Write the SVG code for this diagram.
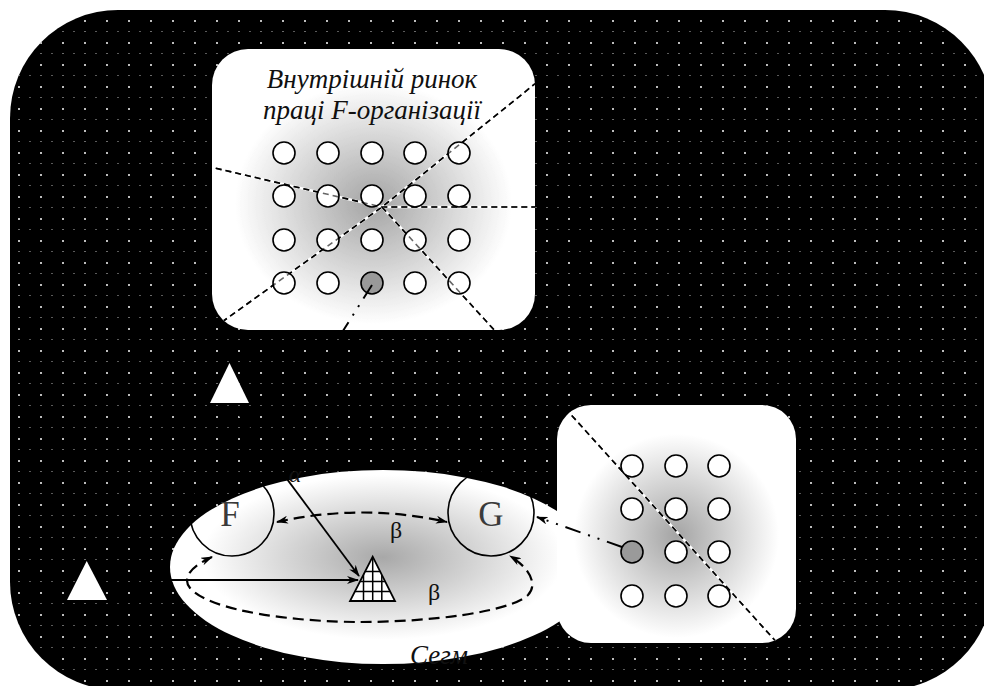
<svg xmlns="http://www.w3.org/2000/svg" width="984" height="686" viewBox="0 0 984 686">
  <defs>
    <pattern id="dots" x="18" y="20" width="22" height="22" patternUnits="userSpaceOnUse">
      <rect x="0" y="0" width="2" height="2" fill="#bdbdbd"/>
      <rect x="0" y="11" width="2" height="1" fill="#6a6a6a"/>
      <rect x="11" y="11" width="2" height="1" fill="#5a5a5a"/>
    </pattern>
    <radialGradient id="boxShade" cx="0.5" cy="0.55" r="0.55">
      <stop offset="0" stop-color="#a4a4a4"/>
      <stop offset="0.78" stop-color="#ffffff"/>
    </radialGradient>
    <radialGradient id="segShade" cx="0.5" cy="0.45" r="0.5">
      <stop offset="0" stop-color="#a8a8a8"/>
      <stop offset="0.85" stop-color="#ffffff"/>
    </radialGradient>
    <clipPath id="clipTop"><rect x="212" y="49" width="323" height="281" rx="36"/></clipPath>
    <clipPath id="clipRight"><rect x="557" y="405" width="239" height="238" rx="34"/></clipPath>
    <clipPath id="clipHatch"><polygon points="372.7,556.7 350,601 395,601"/></clipPath>
    <marker id="arr" viewBox="0 0 12 8" refX="11" refY="4" markerWidth="12" markerHeight="8" markerUnits="userSpaceOnUse" orient="auto-start-reverse">
      <path d="M0,0 L12,4 L0,8 L3.5,4 z" fill="#000"/>
    </marker>
    <style>
      .cell { fill: #fff; stroke: #000; stroke-width: 1.6; }
      .cell.sel { fill: #9a9a9a; }
      .halo { fill: none; stroke: #fff; stroke-width: 2.4; }
      .divide { fill: none; stroke: #000; stroke-width: 1.6; stroke-dasharray: 6 4; }
      .title { font-family: "Liberation Serif", "Times New Roman", serif; font-style: italic; font-size: 27px; fill: #111; text-anchor: middle; }
      .greek { font-family: "Liberation Serif", "Times New Roman", serif; font-size: 24px; fill: #111; text-anchor: middle; }
      .firm { font-family: "Liberation Serif", "Times New Roman", serif; font-size: 35px; fill: #3a3a3a; text-anchor: middle; }
      .ring { fill: none; stroke: #000; stroke-width: 1.6; }
      .flow { fill: none; stroke: #000; stroke-width: 1.8; }
      .loop { fill: none; stroke: #000; stroke-width: 2.2; stroke-dasharray: 11 6; }
      .move { fill: none; stroke: #000; stroke-width: 2; stroke-dasharray: 16 8 2 8 2 8; }
      .mark { fill: #fff; }
    </style>
  </defs>

  <!-- dotted black backdrop -->
  <rect x="10" y="10" width="983" height="680" rx="108" fill="#000"/>
  <rect x="10" y="10" width="983" height="680" rx="108" fill="url(#dots)"/>

  <!-- segment ellipse -->
  <g id="segment">
    <ellipse cx="383" cy="567" rx="213" ry="97" fill="url(#segShade)"/>
    <text class="title" x="410" y="664" style="text-anchor:start">Сегм</text>
  </g>

  <!-- internal labour market of organisation F -->
  <g id="internal-market">
    <rect x="212" y="49" width="323" height="281" rx="36" fill="url(#boxShade)"/>
    <text class="title" x="372" y="88">Внутрішній ринок</text>
    <text class="title" x="372" y="119">праці F-організації</text>
    <g clip-path="url(#clipTop)">
      <polyline class="halo" points="222,322 382,207 536,83"/>
      <polyline class="divide" points="222,322 382,207 536,83"/>
      <polyline class="halo" points="206,166 382,207 540,207"/>
      <polyline class="divide" points="206,166 382,207 540,207"/>
      <line class="halo" x1="382" y1="207" x2="496" y2="332"/>
      <line class="divide" x1="382" y1="207" x2="496" y2="332"/>
    </g>
    <g>
      <circle class="cell" cx="284" cy="153" r="11"/>
      <circle class="cell" cx="328" cy="153" r="11"/>
      <circle class="cell" cx="372" cy="153" r="11"/>
      <circle class="cell" cx="415" cy="153" r="11"/>
      <circle class="cell" cx="459" cy="153" r="11"/>
      <circle class="cell" cx="284" cy="196" r="11"/>
      <circle class="cell" cx="328" cy="196" r="11"/>
      <circle class="cell" cx="372" cy="196" r="11"/>
      <circle class="cell" cx="415" cy="196" r="11"/>
      <circle class="cell" cx="459" cy="196" r="11"/>
      <circle class="cell" cx="284" cy="240" r="11"/>
      <circle class="cell" cx="328" cy="240" r="11"/>
      <circle class="cell" cx="372" cy="240" r="11"/>
      <circle class="cell" cx="415" cy="240" r="11"/>
      <circle class="cell" cx="459" cy="240" r="11"/>
      <circle class="cell" cx="284" cy="283" r="11"/>
      <circle class="cell" cx="328" cy="283" r="11"/>
      <circle class="cell sel" cx="372" cy="283" r="11"/>
      <circle class="cell" cx="415" cy="283" r="11"/>
      <circle class="cell" cx="459" cy="283" r="11"/>
    </g>
    <g clip-path="url(#clipTop)" opacity="0.6">
      <polyline class="divide" points="222,322 382,207 536,83"/>
      <polyline class="divide" points="206,166 382,207 540,207"/>
      <line class="divide" x1="382" y1="207" x2="496" y2="332"/>
    </g>
  </g>

  <!-- second organisation's staff -->
  <g id="external-market">
    <rect x="557" y="405" width="239" height="238" rx="34" fill="url(#boxShade)"/>
    <g clip-path="url(#clipRight)">
      <line class="halo" x1="565" y1="408" x2="780" y2="646"/>
      <line class="divide" x1="565" y1="408" x2="780" y2="646"/>
    </g>
    <circle class="cell" cx="632" cy="466" r="11"/>
    <circle class="cell" cx="676" cy="466" r="11"/>
    <circle class="cell" cx="719" cy="466" r="11"/>
    <circle class="cell" cx="632" cy="509" r="11"/>
    <circle class="cell" cx="676" cy="509" r="11"/>
    <circle class="cell" cx="719" cy="509" r="11"/>
    <circle class="cell sel" cx="632" cy="552" r="11"/>
    <circle class="cell" cx="676" cy="552" r="11"/>
    <circle class="cell" cx="719" cy="552" r="11"/>
    <circle class="cell" cx="632" cy="596" r="11"/>
    <circle class="cell" cx="676" cy="596" r="11"/>
    <circle class="cell" cx="719" cy="596" r="11"/>
    <g clip-path="url(#clipRight)" opacity="0.6">
      <line class="divide" x1="565" y1="408" x2="780" y2="646"/>
    </g>
  </g>

  <!-- firms F and G -->
  <g id="firm-f">
    <circle class="ring" cx="232" cy="514" r="42"/>
    <text class="firm" x="230" y="526">F</text>
  </g>
  <g id="firm-g">
    <circle class="ring" cx="491" cy="513" r="43"/>
    <text class="firm" x="491" y="526">G</text>
  </g>

  <!-- outside sources -->
  <g id="source-top">
    <polygon class="mark" points="229.5,363 210,403 249,403"/>
  </g>
  <g id="source-left">
    <polygon class="mark" points="86.7,561 67,600 107,600"/>
  </g>

  <!-- hatched target -->
  <g id="target">
    <polygon points="372.7,556.7 350,601 395,601" fill="#fff"/>
    <g clip-path="url(#clipHatch)" stroke="#000" stroke-width="1.5">
      <line x1="363.5" y1="550" x2="363.5" y2="605"/>
      <line x1="372.7" y1="550" x2="372.7" y2="605"/>
      <line x1="381.8" y1="550" x2="381.8" y2="605"/>
      <line x1="340" y1="571.5" x2="400" y2="571.5"/>
      <line x1="340" y1="581.5" x2="400" y2="581.5"/>
      <line x1="340" y1="591.5" x2="400" y2="591.5"/>
    </g>
    <polygon points="372.7,556.7 350,601 395,601" fill="none" stroke="#000" stroke-width="1.8"/>
  </g>

  <!-- connectors -->
  <g id="connectors">
    <path class="loop" d="M277,522 Q362,503 447,522" marker-start="url(#arr)" marker-end="url(#arr)"/>
    <path class="loop" d="M212,557 C190,567 182,578 190,588 C210,612 300,622 360,622 C430,622 510,612 528,595 C538,585 530,568 510,556" marker-start="url(#arr)" marker-end="url(#arr)"/>
    <line class="flow" x1="232" y1="405" x2="359" y2="576" marker-end="url(#arr)"/>
    <line class="flow" x1="108" y1="580" x2="358" y2="580" marker-end="url(#arr)"/>
    <line class="move" x1="372" y1="285" x2="255" y2="470" marker-end="url(#arr)"/>
    <line class="move" x1="622" y1="547" x2="537" y2="517" marker-end="url(#arr)"/>
    <text class="greek" x="396" y="538">β</text>
    <text class="greek" x="434" y="600">β</text>
    <text class="greek" x="295" y="482" font-style="italic">α</text>
  </g>
</svg>
